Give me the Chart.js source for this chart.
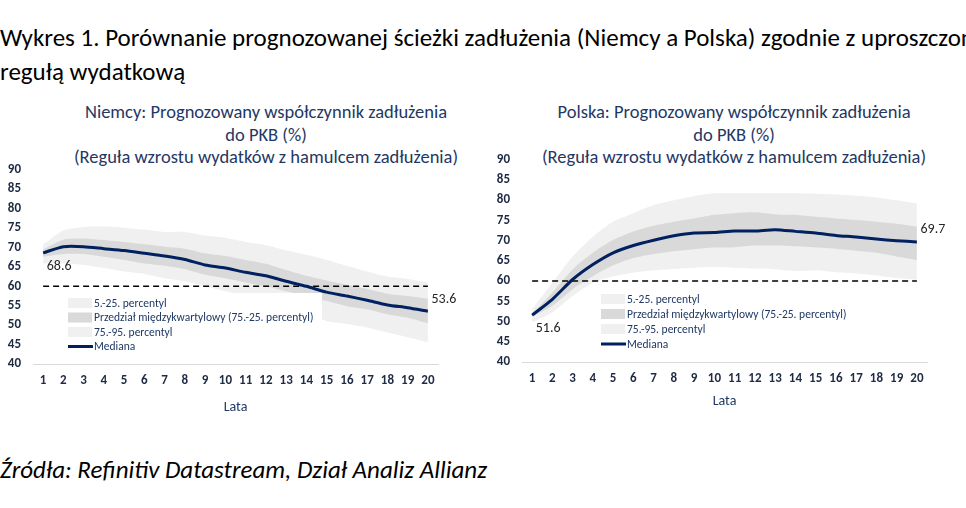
<!DOCTYPE html>
<html lang="pl">
<head>
<meta charset="utf-8">
<script src="https://cdn.jsdelivr.net/npm/chart.js@4.4.1/dist/chart.umd.min.js"></script>
<style>
  html, body { margin: 0; padding: 0; background: #fff; }
  body { width: 966px; height: 508px; position: relative; overflow: hidden; font-family: Carlito, 'Noto Sans', sans-serif; }
  .main-title { position: absolute; left: 0; top: 21px; font-size: 25px; line-height: 34px; color: #000; white-space: nowrap; }
  .chart-title { position: absolute; width: 460px; text-align: center; font-size: 18.5px; line-height: 22.5px; color: #1f3864; white-space: nowrap; }
  .source { position: absolute; left: 0; top: 454px; font-size: 25px; font-style: italic; color: #000; white-space: nowrap; }
  canvas { position: absolute; }
</style>
</head>
<body>
<div class="main-title">Wykres 1. Porównanie prognozowanej ścieżki zadłużenia (Niemcy a Polska) zgodnie z uproszczoną<br>regułą wydatkową</div>

<div class="chart-title" style="left:36px; top:101px;">Niemcy: Prognozowany współczynnik zadłużenia<br>do PKB (%)<br>(Reguła wzrostu wydatków z hamulcem zadłużenia)</div>
<div class="chart-title" style="left:504px; top:101px;">Polska: Prognozowany współczynnik zadłużenia<br>do PKB (%)<br>(Reguła wzrostu wydatków z hamulcem zadłużenia)</div>

<canvas id="deChart" width="470" height="266" style="left:0; top:150px;"></canvas>
<canvas id="plChart" width="476" height="270" style="left:490px; top:140px;"></canvas>

<div class="source">Źródła: Refinitiv Datastream, Dział Analiz Allianz</div>

<script>
// --- dane ---
const years = ['1','2','3','4','5','6','7','8','9','10','11','12','13','14','15','16','17','18','19','20'];
const legendLabels = ['5.-25. percentyl', 'Przedział międzykwartylowy (75.-25. percentyl)', '75.-95. percentyl', 'Mediana'];
const debtLimit = 60;

// Niemcy
const deMedian = [68.6, 70.2, 70.2, 69.7, 69.2, 68.5, 67.8, 66.9, 65.5, 64.7, 63.6, 62.7, 61.3, 60.0, 58.5, 57.5, 56.4, 55.2, 54.5, 53.6];
const deP95    = [70.8, 74.4, 75.3, 75.4, 75.1, 74.6, 74.0, 74.0, 73.1, 72.5, 71.4, 70.6, 69.3, 68.1, 66.8, 65.3, 63.8, 62.5, 61.9, 61.0];
const deP75    = [69.5, 72.0, 72.3, 71.9, 71.4, 70.8, 70.2, 69.7, 68.5, 67.8, 66.8, 65.8, 64.2, 62.7, 61.5, 60.4, 59.3, 58.1, 57.5, 56.8];
const deP25    = [67.6, 68.3, 68.3, 67.6, 66.8, 65.9, 65.3, 64.4, 63.0, 62.1, 61.0, 60.0, 58.7, 57.5, 56.2, 54.9, 54.1, 52.8, 51.9, 50.5];
const deP5     = [65.9, 65.9, 65.5, 64.7, 63.8, 63.2, 62.1, 61.3, 60.0, 58.7, 57.5, 56.2, 54.9, 53.2, 51.1, 50.3, 49.4, 48.1, 46.9, 45.6];

// Polska
const plMedian = [51.6, 55.5, 60.4, 64.1, 67.0, 68.8, 70.1, 71.2, 71.9, 72.0, 72.4, 72.4, 72.7, 72.3, 71.9, 71.3, 70.9, 70.4, 70.0, 69.7];
const plP95    = [53.1, 59.6, 66.1, 71.0, 74.7, 76.8, 78.8, 80.0, 81.0, 81.7, 81.7, 81.7, 81.7, 81.7, 81.6, 81.4, 81.1, 80.7, 80.0, 79.2];
const plP75    = [51.9, 57.2, 62.9, 67.0, 70.2, 72.3, 73.7, 74.7, 75.5, 76.4, 76.8, 77.0, 76.5, 76.4, 75.9, 75.5, 75.1, 74.7, 74.2, 73.5];
const plP25    = [51.2, 53.9, 58.0, 61.2, 63.9, 65.7, 66.7, 67.4, 67.9, 68.3, 68.4, 68.8, 68.8, 68.6, 68.3, 68.0, 67.5, 67.0, 66.1, 65.2];
const plP5     = [49.8, 52.3, 56.3, 59.6, 61.2, 62.1, 62.7, 63.0, 63.3, 63.5, 63.3, 63.1, 62.9, 62.5, 62.7, 62.2, 61.9, 61.4, 60.8, 60.4];

const NAVY = '#002060';
const LIGHT = '#f0f0f0';
const MID = '#d9d9d9';
const FONT = "Carlito, 'Noto Sans', sans-serif";

// legenda z białym tłem + etykiety wartości
const overlayPlugin = {
  id: 'overlay',
  afterDatasetsDraw(chart, args, opts) {
    const ctx = chart.ctx;
    const lg = opts.legend;
    ctx.save();
    ctx.fillStyle = '#fff';
    ctx.fillRect(lg.x, lg.y, lg.w, lg.h);
    const swatch = [LIGHT, MID, LIGHT, null];
    ctx.font = '11.5px ' + FONT;
    ctx.textBaseline = 'middle';
    legendLabels.forEach((txt, i) => {
      const cy = lg.y + lg.first + i * lg.step;
      if (swatch[i]) {
        ctx.fillStyle = swatch[i];
        ctx.fillRect(lg.x + 1, cy - 5, 24, 10);
      } else {
        ctx.strokeStyle = NAVY;
        ctx.lineWidth = 3;
        ctx.beginPath();
        ctx.moveTo(lg.x + 1, cy);
        ctx.lineTo(lg.x + 26, cy);
        ctx.stroke();
      }
      ctx.fillStyle = '#1f3864';
      ctx.fillText(txt, lg.x + 27, cy + 1);
    });

    // etykiety pierwszej i ostatniej wartości mediany
    const meta = chart.getDatasetMeta(0);
    const data = chart.data.datasets[0].data;
    ctx.font = '14px ' + FONT;
    ctx.fillStyle = '#262626';
    ctx.textAlign = 'center';
    const first = meta.data[0], last = meta.data[data.length - 1];
    ctx.fillText(data[0].toFixed(1), first.x + 16, first.y + opts.firstDy);
    ctx.fillText(data[data.length - 1].toFixed(1), last.x + 16, last.y + opts.lastDy);
    ctx.restore();
  }
};

function makeChart(id, med, p95, p75, p25, p5, layout) {
  return new Chart(document.getElementById(id), {
    type: 'line',
    data: {
      labels: years,
      datasets: [
        { data: med, borderColor: NAVY, borderWidth: 3, pointRadius: 0, tension: 0.25, fill: false, order: 0 },
        { data: years.map(() => debtLimit), borderColor: '#000', borderWidth: 1.5, borderDash: [6, 4], pointRadius: 0, fill: false, order: 1 },
        { data: p75, borderWidth: 0, pointRadius: 0, tension: 0.25, backgroundColor: MID, fill: '+1', order: 2 },
        { data: p25, borderWidth: 0, pointRadius: 0, tension: 0.25, fill: false, order: 3 },
        { data: p95, borderWidth: 0, pointRadius: 0, tension: 0.25, backgroundColor: LIGHT, fill: '+1', order: 4 },
        { data: p5, borderWidth: 0, pointRadius: 0, tension: 0.25, fill: false, order: 5 }
      ]
    },
    options: {
      responsive: false,
      animation: false,
      layout: { padding: { top: layout.top, right: layout.right, left: 0, bottom: 0 } },
      plugins: {
        legend: { display: false },
        tooltip: { enabled: false },
        overlay: layout.overlay
      },
      scales: {
        x: {
          offset: true,
          grid: { display: false, drawTicks: false },
          border: { color: '#d9d9d9', width: 1 },
          ticks: { color: '#1f2a44', font: { family: FONT, size: 13, weight: 'bold' }, padding: 9, maxRotation: 0, autoSkip: false },
          title: { display: true, text: 'Lata', color: '#1f3864', font: { family: FONT, size: 14 }, padding: 0 },
          afterFit: s => { s.height = layout.xh; }
        },
        y: {
          min: 40, max: 90,
          grid: { display: false, drawTicks: false },
          border: { display: false },
          ticks: { stepSize: 5, color: '#1f2a44', font: { family: FONT, size: 13, weight: 'bold' }, padding: layout.tickPad },
          afterFit: s => { s.width = layout.yw; }
        }
      }
    },
    plugins: [overlayPlugin]
  });
}

makeChart('deChart', deMedian, deP95, deP75, deP25, deP5, {
  top: 18, right: 32, xh: 52, yw: 33, tickPad: 12,
  overlay: { legend: { x: 67, y: 143, w: 255, h: 62, first: 10, step: 14.5 }, firstDy: 14, lastDy: -12 }
});

makeChart('plChart', plMedian, plP95, plP75, plP25, plP5, {
  top: 19, right: 39, xh: 48, yw: 32, tickPad: 12,
  overlay: { legend: { x: 110, y: 150, w: 250, h: 62, first: 9, step: 15 }, firstDy: 13, lastDy: -12 }
});
</script>
</body>
</html>
